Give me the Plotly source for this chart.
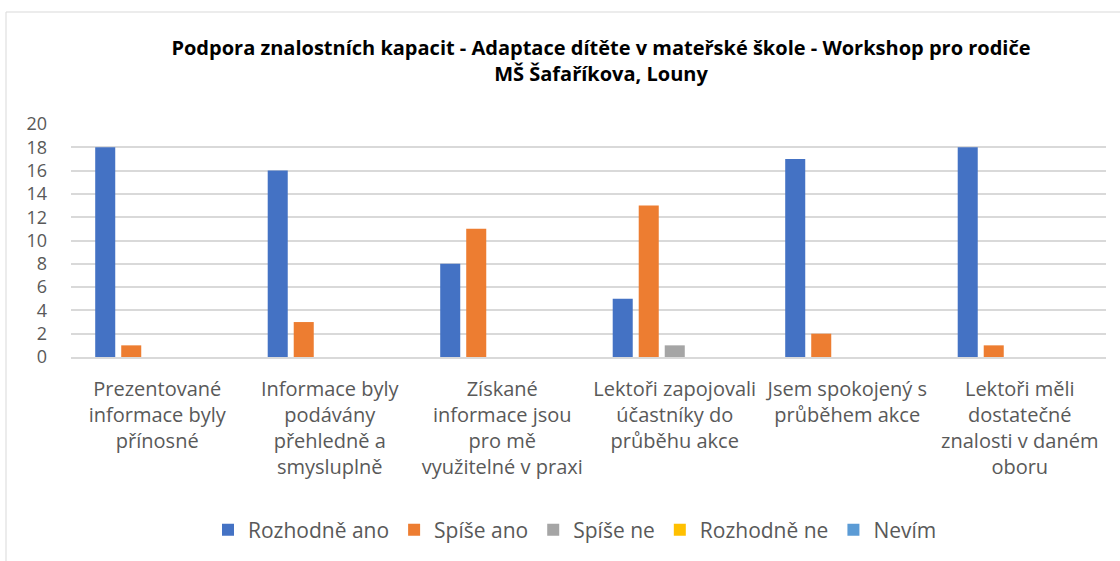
import plotly.graph_objects as go

categories = [
    "Prezentované<br>informace byly<br>přínosné",
    "Informace byly<br>podávány<br>přehledně a<br>smysluplně",
    "Získané<br>informace jsou<br>pro mě<br>využitelné v praxi",
    "Lektoři zapojovali<br>účastníky do<br>průběhu akce",
    "Jsem spokojený s<br>průběhem akce",
    "Lektoři měli<br>dostatečné<br>znalosti v daném<br>oboru",
]
series_names = ["Rozhodně ano", "Spíše ano", "Spíše ne", "Rozhodně ne", "Nevím"]
rozhodne_ano = [18, 16, 8, 5, 17, 18]
spise_ano = [1, 3, 11, 13, 2, 1]
spise_ne = [0, 0, 0, 1, 0, 0]
rozhodne_ne = [0, 0, 0, 0, 0, 0]
nevim = [0, 0, 0, 0, 0, 0]
y_ticks = [0, 2, 4, 6, 8, 10, 12, 14, 16, 18, 20]

colors = ["#4472C4", "#ED7D31", "#A5A5A5", "#FFC000", "#5B9BD5"]
values = [rozhodne_ano, spise_ano, spise_ne, rozhodne_ne, nevim]

font_family = "'Open Sans', Lato, sans-serif"

fig = go.Figure()
for name, vals, col in zip(series_names, values, colors):
    fig.add_trace(go.Bar(name=name, x=categories, y=vals, marker_color=col,
                         marker_line_width=0))

fig.update_layout(
    width=1120, height=561,
    barmode="group", bargap=0.246, bargroupgap=0.23,
    plot_bgcolor="white", paper_bgcolor="white",
    margin=dict(l=71, r=14, t=124, b=204, autoexpand=False),
    title=dict(
        text="<b>Podpora znalostních kapacit - Adaptace dítěte v mateřské škole - Workshop pro rodiče<br>MŠ Šafaříkova, Louny</b>",
        x=601 / 1120, xanchor="center", y=1 - 55 / 561, yanchor="top",
        font=dict(family=font_family, size=20, color="#000000"),
    ),
    font=dict(family=font_family, color="#595959"),
    legend=dict(orientation="h", x=575 / 1120, xref="container", xanchor="center",
                y=1 - 530 / 561, yanchor="middle",
                yref="container", font=dict(size=21, color="#595959"), traceorder="normal",
                itemwidth=30),
    showlegend=True,
)
fig.update_yaxes(range=[0, 20], tickvals=y_ticks, showgrid=True, gridcolor="#D9D9D9",
                 gridwidth=1.5, zeroline=False, showline=False, automargin=False,
                 tickfont=dict(size=18, color="#595959"), ticks="", ticklabelstandoff=23)
fig.update_xaxes(showgrid=False, showline=True, linecolor="#D9D9D9", linewidth=1.5,
                 automargin=False, tickfont=dict(size=20, color="#595959"), ticks="",
                 tickangle=0, ticklabelstandoff=13)

fig.add_shape(type="rect", xref="paper", yref="paper",
              x0=(6 - 71) / 1035, x1=(1125 - 71) / 1035,
              y0=(357 - 575) / 233, y1=(357 - 12) / 233,
              line=dict(color="#D9D9D9", width=1), fillcolor="rgba(0,0,0,0)", layer="below")

fig.write_html("out.html", config={"displayModeBar": False},
               post_script="document.body.style.margin='0';document.body.style.padding='0';")
